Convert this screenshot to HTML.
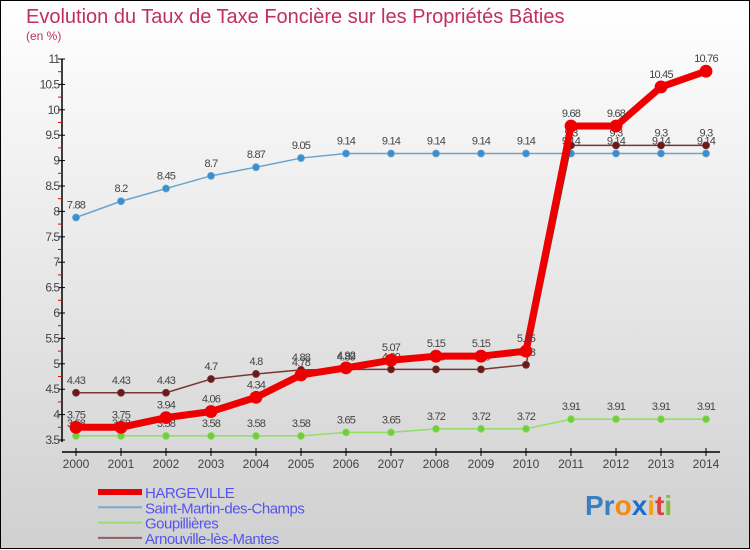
<!DOCTYPE html>
<html><head><meta charset="utf-8"><style>
body{margin:0;width:750px;height:550px;overflow:hidden;font-family:"Liberation Sans",sans-serif}
svg{display:block}
</style></head><body>
<svg id="c" width="750" height="550" xmlns="http://www.w3.org/2000/svg">
<defs><linearGradient id="bg" x1="0" y1="0" x2="0" y2="1"><stop offset="0" stop-color="#ffffff"/><stop offset="1" stop-color="#d0d0d0"/></linearGradient></defs>
<rect x="0.5" y="0.5" width="749" height="548" fill="url(#bg)" stroke="#000"/>
<text x="26" y="23" font-size="20" fill="#c0305a">Evolution du Taux de Taxe Foncière sur les Propriétés Bâties</text>
<text x="26" y="40" font-size="12" fill="#c0305a">(en %)</text>
<g id="axes"></g><g id="series"></g><g id="legend"></g>
<text x="585" y="515" font-size="28" font-weight="bold"><tspan fill="#3a7fc4">Pr</tspan><tspan fill="#f08a1c">o</tspan><tspan fill="#1a6fd0">x</tspan><tspan fill="#f0a020">i</tspan><tspan fill="#e04040">t</tspan><tspan fill="#80c040">i</tspan></text>
</svg>
<script>
const years=[2000,2001,2002,2003,2004,2005,2006,2007,2008,2009,2010,2011,2012,2013,2014];
const yTicks=[3.5,4,4.5,5,5.5,6,6.5,7,7.5,8,8.5,9,9.5,10,10.5,11];
const hargeville=[3.75,3.75,3.94,4.06,4.34,4.78,4.92,5.07,5.15,5.15,5.25,9.68,9.68,10.45,10.76];
const saintMartin=[7.88,8.2,8.45,8.7,8.87,9.05,9.14,9.14,9.14,9.14,9.14,9.14,9.14,9.14,9.14];
const goupillieres=[3.58,3.58,3.58,3.58,3.58,3.58,3.65,3.65,3.72,3.72,3.72,3.91,3.91,3.91,3.91];
const arnouville=[4.43,4.43,4.43,4.7,4.8,4.88,4.89,4.89,4.89,4.89,4.98,9.3,9.3,9.3,9.3];
const NS="http://www.w3.org/2000/svg";
const x=i=>76+i*45;
const y=v=>440-(v-3.5)*(381/7.5);
function mk(t,a,p){const e=document.createElementNS(NS,t);for(const k in a)e.setAttribute(k,a[k]);p.appendChild(e);return e;}
const ax=document.getElementById('axes');
let e=mk('line',{x1:62,y1:59,x2:62,y2:442,stroke:'#000','stroke-width':1.5},ax);

e=mk('line',{x1:62,y1:452,x2:720,y2:452,stroke:'#000','stroke-width':1.5},ax);

yTicks.forEach(v=>{
 mk('line',{x1:58,y1:y(v),x2:65,y2:y(v),stroke:'#000'},ax);
 if(v<11) mk('line',{x1:58,y1:y(v+0.25),x2:62,y2:y(v+0.25),stroke:'#e00'},ax);
 const t=mk('text',{x:59,y:y(v)+4,'font-size':12,'text-anchor':'end',fill:'#444','letter-spacing':'-1'},ax);
 t.textContent=v;
 
 
});
years.forEach((yr,i)=>{
 mk('line',{x1:x(i),y1:448,x2:x(i),y2:456,stroke:'#000'},ax);
 const t=mk('text',{x:x(i),y:468,'font-size':12,'text-anchor':'middle',fill:'#444'},ax);
 t.textContent=yr;
 
 
});
const S=document.getElementById('series');
function series(data,color,dot,w,r,name){
 const g=mk('g',{},S);
 
 
 mk('polyline',{points:data.map((v,i)=>x(i)+','+y(v)).join(' '),fill:'none',stroke:color,'stroke-width':w,'stroke-linejoin':'round'},g);
 data.forEach((v,i)=>{
  const c=mk('circle',{cx:x(i),cy:y(v),r:r,fill:dot,stroke:color,'stroke-width':0.8},g);
  
  
  const t=mk('text',{x:x(i),y:y(v)-9,'font-size':11,'text-anchor':'middle',fill:'#444','letter-spacing':'-0.8'},g);
  t.textContent=v;
  
  
 });
}
series(saintMartin,'#6ba3cc','#3a8fd0',1.5,3.5,'saint-martin-series');
series(goupillieres,'#90dd60','#70cc40',1.5,3.5,'goupillieres-series');
series(arnouville,'#7a3535','#6a1a1a',1.5,3.5,'arnouville-series');
series(hargeville,'#ee0000','#ee0000',7,6,'hargeville-series');
const L=document.getElementById('legend');
const leg=[['HARGEVILLE','#ee0000',6],['Saint-Martin-des-Champs','#7aa8cc',2],['Goupillières','#99dd77',2],['Arnouville-lès-Mantes','#8a6060',2]];
leg.forEach((d,i)=>{
 const g=mk('g',{},L);
 
 
 const yy=492+i*15.3;
 mk('line',{x1:98,y1:yy,x2:142,y2:yy,stroke:d[1],'stroke-width':d[2]},g);
 const t=mk('text',{x:145,y:yy+6,'font-size':15,fill:'#5555ee','letter-spacing':'-0.5'},g);
 t.textContent=d[0];
});
</script>
</body></html>
